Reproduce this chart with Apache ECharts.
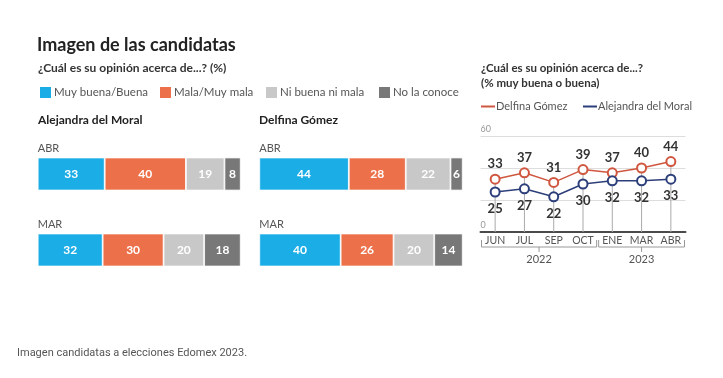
<!DOCTYPE html>
<html><head><meta charset="utf-8">
<script src="https://cdn.jsdelivr.net/npm/echarts@6/dist/echarts.min.js"></script>
<style>html,body{margin:0;padding:0;background:#fff}#c{width:723px;height:378px}</style>
</head><body><div id="c"></div>
<script>
// ---- data ----
const periods = ['ABR', 'MAR'];
const opinionNames = ['Muy buena/Buena', 'Mala/Muy mala', 'Ni buena ni mala', 'No la conoce'];
const moralBuena = [33, 32];
const moralMala = [40, 30];
const moralNi = [19, 20];
const moralNo = [8, 18];
const gomezBuena = [44, 40];
const gomezMala = [28, 26];
const gomezNi = [22, 20];
const gomezNo = [6, 14];
const months = ['JUN', 'JUL', 'SEP', 'OCT', 'ENE', 'MAR', 'ABR'];
const delfinaTrend = [33, 37, 31, 39, 37, 40, 44];
const alejandraTrend = [25, 27, 22, 30, 32, 32, 33];
const yearLabels = ['2022', '2023'];
const yearStart = [0, 4];   // month index where each year starts
const yearEnd = [4, 7];     // month index where each year ends (exclusive)
const yTicks = [0, 60];

// ---- styles ----
const FONT = 'Lato';
const C_BLUE = '#1aade6', C_ORANGE = '#ec7049', C_LGRAY = '#c8c8c8', C_DGRAY = '#787878';
const C_RED = '#d0573f', C_NAVY = '#2d3f7a';
const opinionColors = [C_BLUE, C_ORANGE, C_LGRAY, C_DGRAY];

const chart = echarts.init(document.getElementById('c'), null, {renderer: 'canvas'});

function stackSeries(gridIdx, arrays) {
  return arrays.map((arr, i) => ({
    type: 'bar', name: opinionNames[i], stack: 'g' + gridIdx,
    xAxisIndex: gridIdx, yAxisIndex: gridIdx,
    barWidth: 33, data: arr,
    itemStyle: {color: opinionColors[i], borderColor: '#fff', borderWidth: 0.8},
    label: {show: true, position: 'inside', color: '#fff', fontFamily: FONT, fontWeight: 'bold', fontSize: 12},
    emphasis: {disabled: true}
  }));
}

const barYAxis = (gi) => ({
  type: 'category', gridIndex: gi, data: periods, inverse: true,
  axisLine: {show: false}, axisTick: {show: false},
  axisLabel: {inside: true, margin: 0, align: 'left', verticalAlign: 'bottom', padding: [0, 0, 20, 0],
    color: '#555', fontFamily: FONT, fontSize: 11}
});
const barXAxis = (gi) => ({type: 'value', gridIndex: gi, min: 0, max: 100, show: false});

const legendItems = [
  {name: opinionNames[0], left: 38},
  {name: opinionNames[1], left: 158},
  {name: opinionNames[2], left: 264},
  {name: opinionNames[3], left: 377}
].map(o => ({
  data: [o.name], left: o.left, top: 85, padding: 0, icon: 'rect', itemWidth: 13, itemHeight: 13,
  selectedMode: false, textStyle: {color: '#555', fontFamily: FONT, fontSize: 11.5, padding: [0, 0, 0, -3]}
}));

const lineLegends = [
  {name: 'Delfina Gómez', left: 481},
  {name: 'Alejandra del Moral', left: 583}
].map(o => ({
  data: [o.name], left: o.left, top: 101, padding: 0, icon: 'rect', itemWidth: 14, itemHeight: 2,
  selectedMode: false, textStyle: {color: '#555', fontFamily: FONT, fontSize: 11, padding: [0, 0, 0, -4]}
}));

const tStyle = (size, weight, color, extra) => Object.assign({fontFamily: FONT, fontWeight: weight, fontSize: size, color: color}, extra || {});

const option = {
  animation: false,
  title: [
    {text: 'Imagen de las candidatas', left: 37, top: 36, padding: 0, textStyle: tStyle(18, 'bold', '#222')},
    {text: '¿Cuál es su opinión acerca de...? (%)', left: 38, top: 62, padding: 0, textStyle: tStyle(12, 'bold', '#333')},
    {text: 'Alejandra del Moral', left: 38, top: 114, padding: 0, textStyle: tStyle(12, 'bold', '#222')},
    {text: 'Delfina Gómez', left: 259, top: 114, padding: 0, textStyle: tStyle(12, 'bold', '#222')},
    {text: '¿Cuál es su opinión acerca de...?\n(% muy buena o buena)', left: 481, top: 61, padding: 0,
      textStyle: tStyle(11.5, 'bold', '#333', {lineHeight: 15})},
    {text: 'Imagen candidatas a elecciones Edomex 2023.', left: 17, top: 348, padding: 0,
      textStyle: {fontFamily: 'Roboto', fontWeight: 'normal', fontSize: 11, color: '#555'}}
  ],
  legend: legendItems.concat(lineLegends),
  grid: [
    {left: 37.7, width: 203, top: 136, height: 152},
    {left: 259.3, width: 203.4, top: 136, height: 152},
    {left: 480.5, right: 37.5, top: 136, bottom: 146}
  ],
  xAxis: [
    barXAxis(0), barXAxis(1),
    {type: 'category', gridIndex: 2, data: months, boundaryGap: true,
      axisLine: {lineStyle: {color: '#4a4a4a', width: 2}}, axisTick: {show: false},
      axisLabel: {interval: 0, hideOverlap: false, color: '#555', fontFamily: FONT, fontSize: 10.5, margin: 3}},
    {type: 'value', gridIndex: 2, min: 0, max: months.length, show: false}
  ],
  yAxis: [
    barYAxis(0), barYAxis(1),
    {type: 'value', gridIndex: 2, min: 0, max: 60, interval: 20,
      axisLine: {show: false}, axisTick: {show: false},
      splitLine: {lineStyle: {color: '#ddd', width: 1}},
      axisLabel: {inside: true, margin: 0, verticalAlign: 'bottom', padding: [0, 0, 2, 0], color: '#999', fontFamily: FONT, fontSize: 9,
        formatter: v => yTicks.indexOf(v) >= 0 ? String(v) : ''}}
  ],
  series: [
    ...stackSeries(0, [moralBuena, moralMala, moralNi, moralNo]),
    ...stackSeries(1, [gomezBuena, gomezMala, gomezNi, gomezNo]),
    {type: 'bar', name: 'drop', xAxisIndex: 2, yAxisIndex: 2, barWidth: 1, data: delfinaTrend,
      itemStyle: {color: '#aaa'}, z: 1, emphasis: {disabled: true}},
    {type: 'line', name: 'Delfina Gómez', xAxisIndex: 2, yAxisIndex: 2, data: delfinaTrend,
      color: C_RED, symbol: 'emptyCircle', symbolSize: 9, lineStyle: {width: 1.5}, itemStyle: {borderWidth: 1.5}, z: 5,
      label: {show: true, position: 'top', distance: 3, color: '#333', fontFamily: FONT, fontWeight: 'bold', fontSize: 13}},
    {type: 'line', name: 'Alejandra del Moral', xAxisIndex: 2, yAxisIndex: 2, data: alejandraTrend,
      color: C_NAVY, symbol: 'emptyCircle', symbolSize: 9, lineStyle: {width: 1.5}, itemStyle: {borderWidth: 1.5}, z: 5,
      label: {show: true, position: 'bottom', distance: 5, color: '#333', fontFamily: FONT, fontWeight: 'bold', fontSize: 13}},
    {type: 'custom', name: 'years', xAxisIndex: 3, yAxisIndex: 2, clip: false, silent: true,
      data: yearLabels.map((y, i) => [yearStart[i], yearEnd[i]]),
      renderItem: function (params, api) {
        const a = api.coord([api.value(0), 0]);
        const b = api.coord([api.value(1), 0]);
        const x0 = a[0] + 1, x1 = b[0] - 1, base = a[1];
        const yl = base + 15, mid = (x0 + x1) / 2;
        const st = {stroke: '#999', lineWidth: 1, fill: null};
        return {type: 'group', children: [
          {type: 'polyline', shape: {points: [[x0, base + 8], [x0, yl], [x1, yl], [x1, base + 8]]}, style: st},
          {type: 'line', shape: {x1: mid, y1: yl, x2: mid, y2: yl + 5}, style: st},
          {type: 'text', style: {text: yearLabels[params.dataIndex], x: mid, y: yl + 12, align: 'center', verticalAlign: 'middle',
            fill: '#555', font: '11px ' + FONT}}
        ]};
      }}
  ]
};
chart.setOption(option);
</script></body></html>
